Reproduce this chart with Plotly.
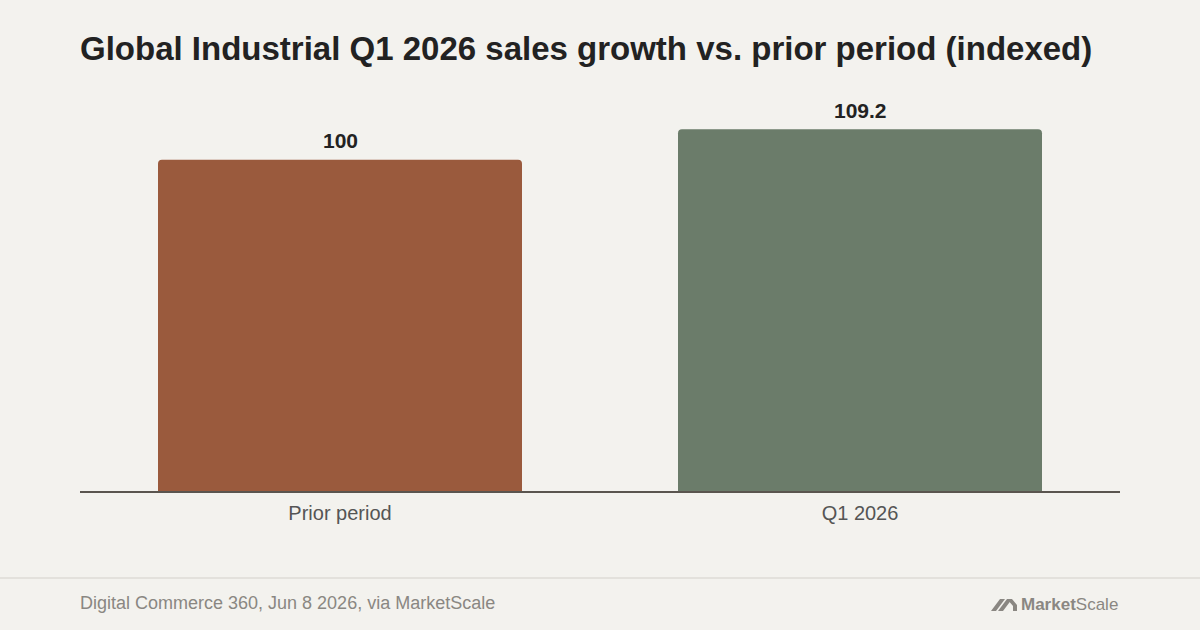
import plotly.graph_objects as go

categories = ["Prior period", "Q1 2026"]
values = [100, 109.2]
value_labels = ["100", "109.2"]
bar_colors = ["#9A5A3D", "#6B7C6A"]

title = "Global Industrial Q1 2026 sales growth vs. prior period (indexed)"
source = "Digital Commerce 360, Jun 8 2026, via MarketScale"

BG = "#F3F2EE"
FONT = "Liberation Sans, Arial, Helvetica, sans-serif"
W, H = 1200, 630
L, R, T, B = 80, 80, 100, 139
PW, PH = W - L - R, H - T - B


def px(x):
    return (x - L) / PW


def py(y):
    return (H - B - y) / PH


fig = go.Figure()
fig.add_trace(go.Bar(
    x=categories, y=values,
    marker=dict(color=bar_colors, line=dict(width=0)),
    hoverinfo="skip",
))

for c, v, lab in zip(categories, values, value_labels):
    fig.add_annotation(x=c, y=v, xref="x", yref="y", text="<b>" + lab + "</b>",
                       showarrow=False, yanchor="middle", yshift=19,
                       font=dict(family=FONT, size=21, color="#222222"))

fig.update_layout(
    width=W, height=H,
    paper_bgcolor=BG, plot_bgcolor=BG,
    margin=dict(l=L, r=R, t=T, b=B),
    bargap=0.3, barcornerradius=4,
    showlegend=False,
    font=dict(family=FONT),
    title=dict(text="<b>" + title + "</b>", x=0, xref="paper", xanchor="left",
               y=1 - 48 / H, yref="container", yanchor="middle",
               font=dict(family=FONT, size=33, color="#222222")),
    xaxis=dict(showline=True, linecolor="#5A554F", linewidth=2, ticks="",
               ticklabelstandoff=3,
               tickfont=dict(family=FONT, size=20, color="#555555"),
               showgrid=False, zeroline=False, fixedrange=True),
    yaxis=dict(range=[0, 118], visible=False, showgrid=False, zeroline=False, fixedrange=True),
)

# footer separator
fig.add_shape(type="line", xref="paper", yref="paper", x0=px(0), x1=px(W),
              y0=py(578), y1=py(578), line=dict(color="#E3E1DC", width=2))

fig.add_annotation(text=source, xref="paper", yref="paper", x=0, xanchor="left", xshift=-2,
                   y=py(603), yanchor="middle", showarrow=False,
                   font=dict(family=FONT, size=18, color="#8A8782"))
fig.add_annotation(text="<b>Market</b>Scale", xref="paper", yref="paper", x=px(1120), xanchor="right",
                   y=py(604), yanchor="middle", showarrow=False,
                   font=dict(family=FONT, size=17, color="#8A8782"))

# logo mark
logo_polys = [
    [(991, 611), (996, 611), (1005, 599), (1000, 599)],
    [(998, 611), (1003, 611), (1012, 599), (1007, 599)],
    [(1007, 599), (1012, 599), (1017, 605), (1017, 611), (1013, 611), (1013, 606)],
]
for poly in logo_polys:
    path = "M " + " L ".join(f"{px(x):.5f},{py(y):.5f}" for x, y in poly) + " Z"
    fig.add_shape(type="path", xref="paper", yref="paper", path=path,
                  fillcolor="#8A8782", line=dict(width=0))

fig.write_html("out.html", config={"displayModeBar": False},
               post_script="document.body.style.margin='0';")
